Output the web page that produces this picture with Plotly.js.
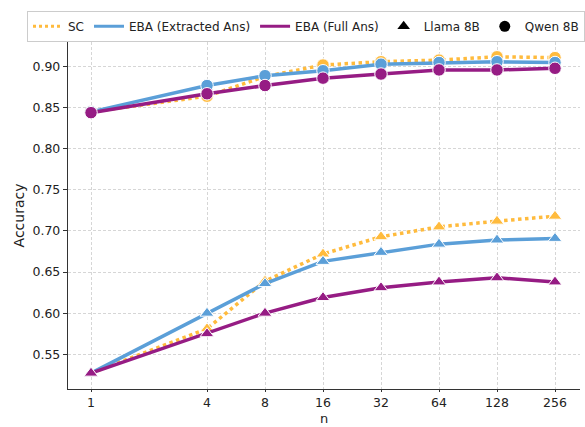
<!DOCTYPE html>
<html>
<head>
<meta charset="utf-8">
<script src="https://cdn.plot.ly/plotly-3.0.1.min.js"></script>
<style>html,body{margin:0;padding:0;background:#fff;}#chart{width:585px;height:427px;}</style>
</head>
<body>
<div id="chart"></div>
<script>
const nValues = [1, 4, 8, 16, 32, 64, 128, 256];
const tickLabels = ["1", "4", "8", "16", "32", "64", "128", "256"];

const qwenSC   = [0.845, 0.864, 0.888, 0.902, 0.906, 0.908, 0.912, 0.911];
const qwenExt  = [0.845, 0.877, 0.889, 0.895, 0.903, 0.905, 0.906, 0.905];
const qwenFull = [0.844, 0.867, 0.877, 0.886, 0.891, 0.896, 0.896, 0.898];

const llamaSC   = [0.527, 0.581, 0.639, 0.672, 0.693, 0.705, 0.712, 0.718];
const llamaExt  = [0.527, 0.600, 0.636, 0.663, 0.674, 0.684, 0.689, 0.691];
const llamaFull = [0.527, 0.575, 0.600, 0.619, 0.631, 0.638, 0.643, 0.638];

const legendNames = ["SC", "EBA (Extracted Ans)", "EBA (Full Ans)", "Llama 8B", "Qwen 8B"];
const xTitle = "n";
const yTitle = "Accuracy";

const cSC = "#FFBB3D", cExt = "#5B9FD8", cFull = "#961C84";

function series(y, color, dash, symbol) {
  return {
    x: nValues, y: y, type: "scatter", mode: "lines+markers", showlegend: false,
    line: {color: color, width: 3.5, dash: dash},
    marker: {color: color, symbol: symbol, size: symbol === "circle" ? 12.5 : 12, line: {color: "#fff", width: 1}}
  };
}

const traces = [
  series(llamaSC, cSC, "dot", "triangle-up"),
  series(llamaExt, cExt, "solid", "triangle-up"),
  series(llamaFull, cFull, "solid", "triangle-up"),
  series(qwenSC, cSC, "dot", "circle"),
  series(qwenExt, cExt, "solid", "circle"),
  series(qwenFull, cFull, "solid", "circle"),
  {x: [null], y: [null], type: "scatter", mode: "lines", name: legendNames[0], line: {color: cSC, width: 3, dash: "dot"}},
  {x: [null], y: [null], type: "scatter", mode: "lines", name: legendNames[1], line: {color: cExt, width: 3}},
  {x: [null], y: [null], type: "scatter", mode: "lines", name: legendNames[2], line: {color: cFull, width: 3}},
  {x: [null], y: [null], type: "scatter", mode: "markers", name: legendNames[3], marker: {color: "#000", symbol: "triangle-up", size: 11}},
  {x: [null], y: [null], type: "scatter", mode: "markers", name: legendNames[4], marker: {color: "#000", symbol: "circle", size: 11}}
];

const layout = {
  width: 585, height: 427,
  margin: {l: 68, r: 5, t: 42, b: 38},
  paper_bgcolor: "#fff", plot_bgcolor: "#fff",
  font: {family: "DejaVu Sans", size: 12, color: "#222"},
  xaxis: {
    type: "log", range: [-0.1195, 2.538],
    tickvals: nValues, ticktext: tickLabels,
    showgrid: true, gridcolor: "#d6d6d6", griddash: "3px,2px", gridwidth: 1,
    showline: true, linecolor: "#333", linewidth: 1.2,
    ticks: "outside", ticklen: 2, tickcolor: "#333",
    tickfont: {size: 12.5, color: "#222"},
    zeroline: false
  },
  yaxis: {
    range: [0.5077, 0.930],
    tickvals: [0.55, 0.60, 0.65, 0.70, 0.75, 0.80, 0.85, 0.90],
    tickformat: ".2f",
    showgrid: true, gridcolor: "#d6d6d6", griddash: "3px,2px", gridwidth: 1,
    showline: true, linecolor: "#333", linewidth: 1.2,
    ticks: "outside", ticklen: 4, tickcolor: "#333",
    tickfont: {size: 12.5, color: "#222"},
    zeroline: false,
    title: {text: yTitle, font: {size: 14, color: "#222"}, standoff: 4}
  },
  annotations: [{
    text: xTitle, xref: "paper", yref: "paper", x: 0.5, y: 0,
    xanchor: "center", yanchor: "bottom", yshift: -38, showarrow: false, borderpad: 0,
    font: {size: 13, color: "#222"}
  }],
  legend: {
    orientation: "h", x: -0.01, xanchor: "left", y: 1.09, yanchor: "top",
    bordercolor: "#cccccc", borderwidth: 1, bgcolor: "#fff",
    font: {size: 12, color: "#222"}, itemwidth: 30, tracegroupgap: 0
  }
};

Plotly.newPlot("chart", traces, layout, {displayModeBar: false, staticPlot: true});
</script>
</body>
</html>
